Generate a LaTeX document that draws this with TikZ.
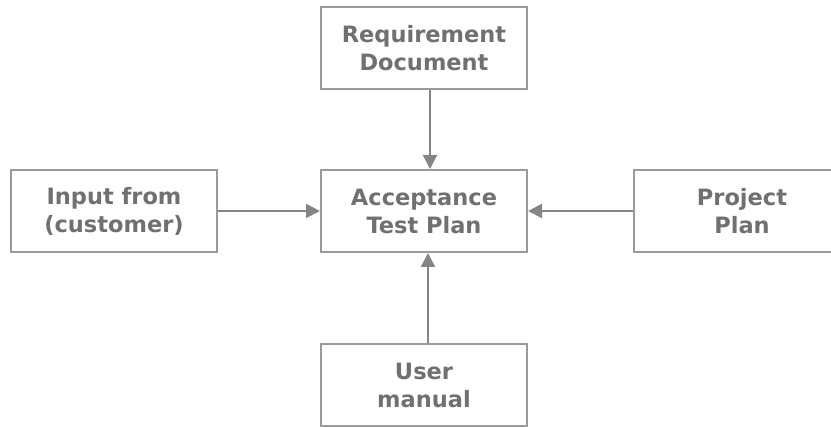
\documentclass[tikz,border=0pt]{standalone}
\usepackage{fontspec}
\setmainfont{DejaVu Sans}
\definecolor{atpLine}{HTML}{9A9A9A}
\definecolor{atpArrow}{HTML}{858585}
\definecolor{atpText}{HTML}{707070}
\usetikzlibrary{positioning,arrows.meta}

\begin{document}
\begin{tikzpicture}[x=1pt, y=-1pt,
    planbox/.style={draw=atpLine, line width=2pt, fill=white, minimum width=206pt, minimum height=82pt,
      align=center, text=atpText, font=\fontsize{22.5}{28}\selectfont\bfseries, inner sep=0pt},
    feed/.style={draw=atpArrow, line width=2pt, -{Triangle[length=14pt, width=14pt]}}]
  % canvas
  \clip (0,0) rectangle (831,427);
  \fill[white] (0,0) rectangle (831,427);
  % boxes
  \node[planbox] (acc) at (424,211) {Acceptance\\Test Plan};
  \node[planbox] (req) at (424,48.5) {Requirement\\Document};
  \node[planbox] (cust) at (114,211) {Input from\\(customer)};
  \node[planbox, minimum width=216pt] (proj) at (742,211) {Project\\Plan};
  \node[planbox] (user) at (424,385) {User\\manual};
  % inputs to the plan
  \draw[feed] ([xshift=6pt]req.south) -- ([xshift=6pt]acc.north);
  \draw[feed] (cust.east) -- (acc.west);
  \draw[feed] (proj.west) -- (acc.east);
  \draw[feed] ([xshift=4pt]user.north) -- ([xshift=4pt]acc.south);
\end{tikzpicture}
\end{document}
